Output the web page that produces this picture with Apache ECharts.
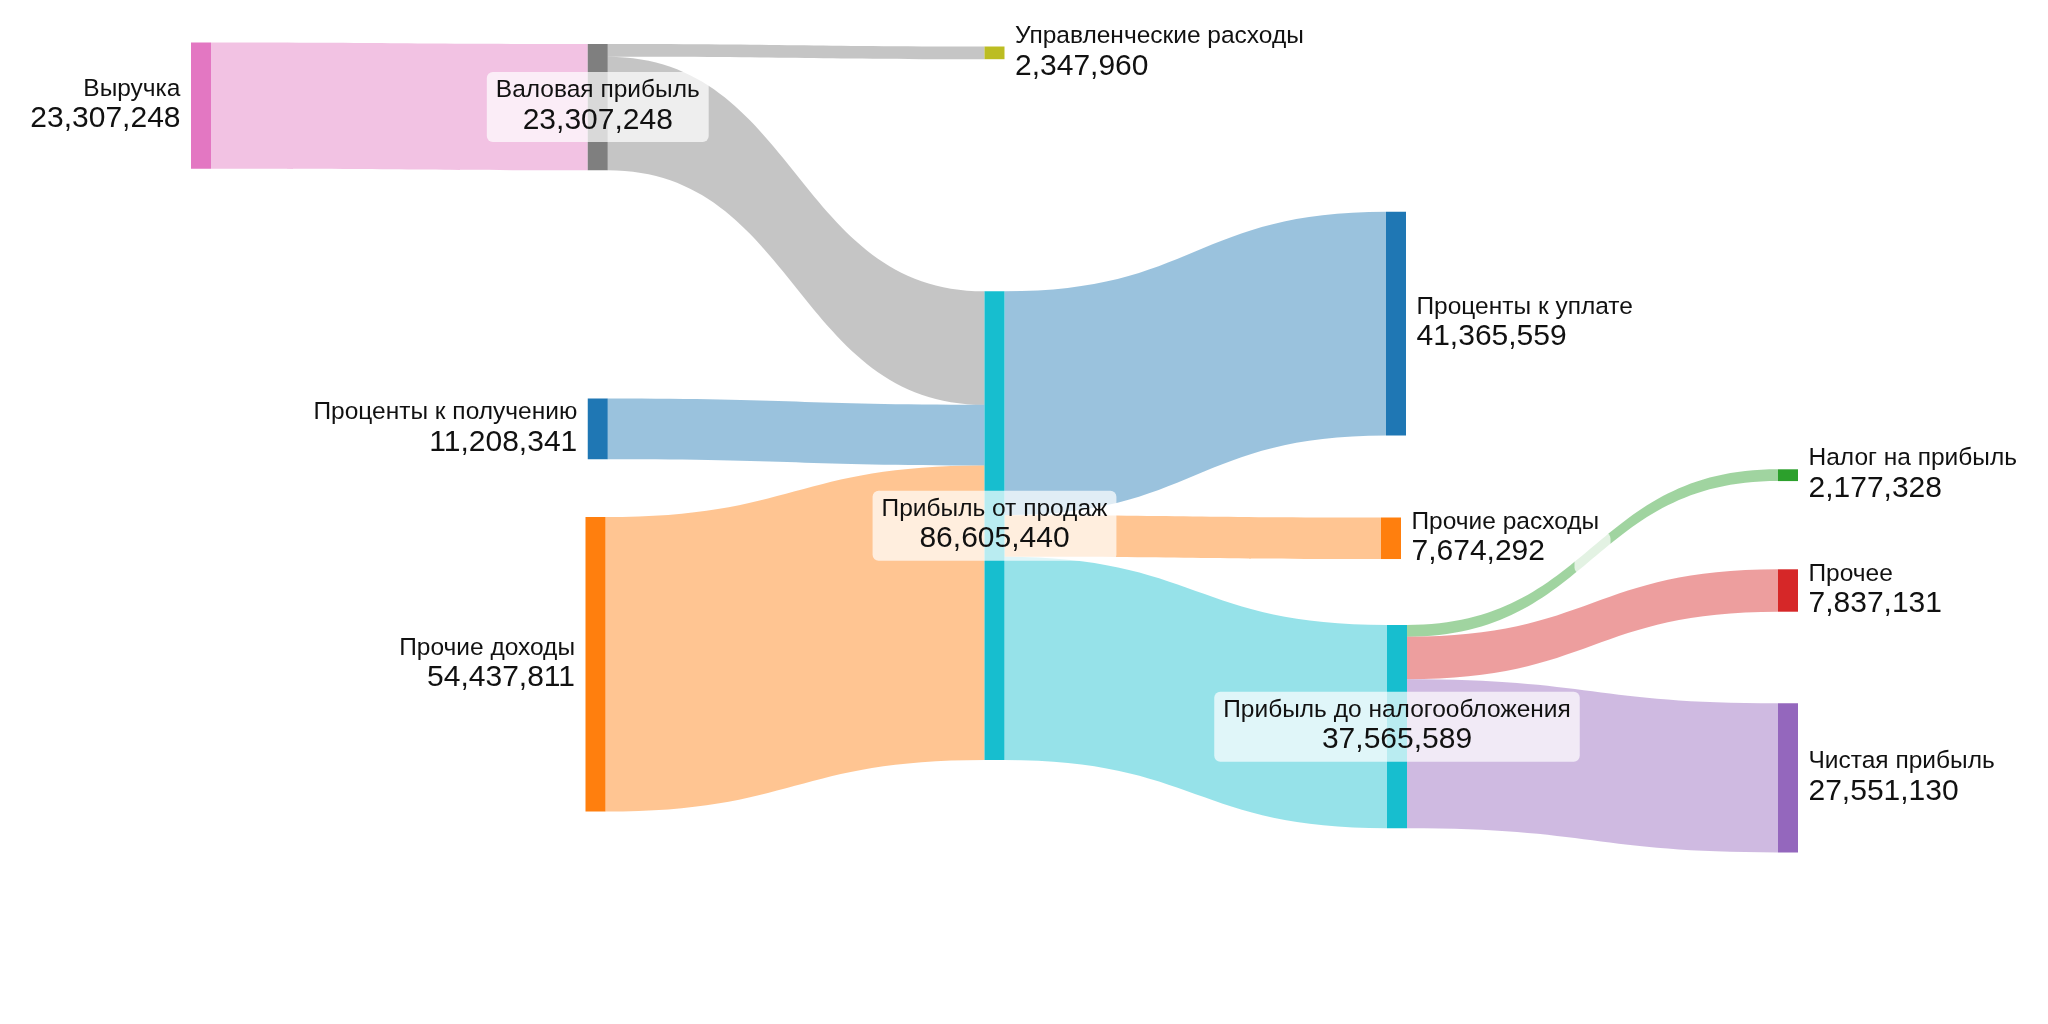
<!DOCTYPE html>
<html>
<head>
<meta charset="utf-8">
<script src="https://cdn.jsdelivr.net/npm/echarts@6/dist/echarts.min.js"></script>
<style>
html,body{margin:0;padding:0;background:#ffffff;}
#chart{width:2048px;height:1024px;}
</style>
</head>
<body>
<div id="chart"></div>
<script>
// ---------- DATA ----------
const nodeNames = [
  'Выручка',
  'Валовая прибыль',
  'Проценты к получению',
  'Прочие доходы',
  'Управленческие расходы',
  'Прибыль от продаж',
  'Проценты к уплате',
  'Прочие расходы',
  'Прибыль до налогообложения',
  'Налог на прибыль',
  'Прочее',
  'Чистая прибыль'
];
const nodeStage = [0, 1, 1, 1, 2, 2, 3, 3, 3, 4, 4, 4];

const linkSources = [
  'Выручка',
  'Валовая прибыль',
  'Валовая прибыль',
  'Проценты к получению',
  'Прочие доходы',
  'Прибыль от продаж',
  'Прибыль от продаж',
  'Прибыль от продаж',
  'Прибыль до налогообложения',
  'Прибыль до налогообложения',
  'Прибыль до налогообложения'
];
const linkTargets = [
  'Валовая прибыль',
  'Управленческие расходы',
  'Прибыль от продаж',
  'Прибыль от продаж',
  'Прибыль от продаж',
  'Проценты к уплате',
  'Прочие расходы',
  'Прибыль до налогообложения',
  'Налог на прибыль',
  'Прочее',
  'Чистая прибыль'
];
const linkValues = [
  23307248,
  2347960,
  20959288,
  11208341,
  54437811,
  41365559,
  7674292,
  37565589,
  2177328,
  7837131,
  27551130
];

// ---------- LAYOUT / STYLE ----------
const PALETTE = {
  blue: '#1f77b4', orange: '#ff7f0e', green: '#2ca02c', red: '#d62728',
  purple: '#9467bd', gray: '#7f7f7f', pink: '#e377c2', olive: '#bcbd22', cyan: '#17becf'
};
const nodeColors = [
  PALETTE.pink, PALETTE.gray, PALETTE.blue, PALETTE.orange, PALETTE.olive, PALETTE.cyan,
  PALETTE.blue, PALETTE.orange, PALETTE.cyan, PALETTE.green, PALETTE.red, PALETTE.purple
];
const labelSide = ['left', 'inside', 'left', 'left', 'right', 'inside',
                   'right', 'right', 'inside', 'right', 'right', 'right'];
// node placement inside the layout box (pixels from page top / page left; null = automatic column)
const nodeTopPx = [42.5, 44, 398.5, 517, 46.5, 291.3, 211.7, 517.5, 625, 469.3, 569.3, 703.3];
const nodeLeftPx = [null, null, null, 585.5, null, null, 1386, 1381, 1387, null, null, null];
const linkColorBy = ['source', 'source', 'source', 'source', 'source',
                     'target', 'target', 'target', 'target', 'target', 'target'];

const TOP = 40, H = 501.4, LEFT = 191, RIGHT = 250;
const W = 2048 - LEFT - RIGHT;
const FONT = '"Liberation Sans", Arial, Helvetica, sans-serif';
const TXT = '#111111';

function richFor(align) {
  return {
    n: { fontFamily: FONT, fontSize: 24.5, lineHeight: 27, color: TXT, align: align },
    v: { fontFamily: FONT, fontSize: 30, lineHeight: 33, color: TXT, align: align }
  };
}
function fmt(p) {
  return '{n|' + p.name + '}\n{v|' + Number(p.value).toLocaleString('en-US') + '}';
}

const nodes = nodeNames.map(function (name, i) {
  const side = labelSide[i];
  let label;
  if (side === 'inside') {
    label = {
      show: true, position: 'inside', align: 'center', verticalAlign: 'middle',
      backgroundColor: 'rgba(255,255,255,0.7)', borderRadius: 6, padding: [5, 9],
      formatter: fmt, rich: richFor('center')
    };
  } else {
    label = {
      show: true, position: side, distance: 10.5,
      align: side === 'left' ? 'right' : 'left',
      formatter: fmt, rich: richFor(side === 'left' ? 'right' : 'left')
    };
  }
  const item = {
    name: name,
    depth: nodeStage[i],
    localY: (nodeTopPx[i] - TOP) / H,
    itemStyle: { color: nodeColors[i], borderWidth: 0 },
    label: label
  };
  if (nodeLeftPx[i] != null) item.localX = (nodeLeftPx[i] - LEFT) / W;
  return item;
});

const links = linkSources.map(function (s, i) {
  const l = {
    source: s,
    target: linkTargets[i],
    value: linkValues[i],
    lineStyle: { color: linkColorBy[i] }
  };
  if (s === 'Прибыль до налогообложения' && linkTargets[i] === 'Налог на прибыль') {
    l.edgeLabel = {
      show: true, formatter: '{v| }',
      backgroundColor: 'rgba(255,255,255,0.7)', borderRadius: 6, padding: [4, 9],
      rich: { v: { width: 18, fontSize: 29, lineHeight: 33, fontFamily: FONT } }
    };
  }
  return l;
});

const chart = echarts.init(document.getElementById('chart'), null, { renderer: 'canvas' });
chart.setOption({
  backgroundColor: '#ffffff',
  animation: false,
  series: [{
    type: 'sankey',
    left: LEFT, right: RIGHT, top: TOP, height: H,
    nodeWidth: 20,
    nodeGap: 10,
    nodeAlign: 'left',
    layoutIterations: 0,
    draggable: false,
    emphasis: { disabled: true },
    itemStyle: { borderWidth: 0 },
    lineStyle: { opacity: 0.45, curveness: 0.5 },
    edgeLabel: { show: false },
    data: nodes,
    links: links
  }]
});
</script>
</body>
</html>
